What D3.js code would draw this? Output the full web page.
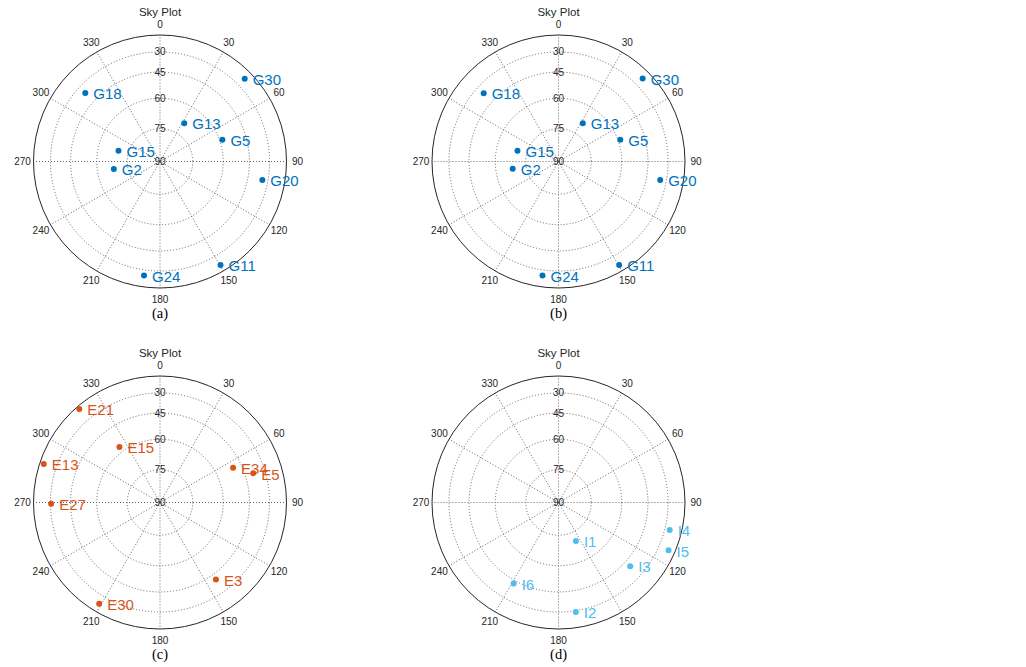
<!DOCTYPE html>
<html>
<head>
<meta charset="utf-8">
<script src="https://cdn.jsdelivr.net/npm/d3@7"></script>
<style>
  html, body { margin: 0; padding: 0; background: #fff; }
  svg { display: block; }
</style>
</head>
<body>
<svg id="chart" width="1026" height="667"></svg>
<script>
// Satellite sky positions: azimuth (deg, clockwise from north) and elevation (deg)
const satsA = ["G30", "G18", "G13", "G5", "G15", "G2", "G20", "G11", "G24"];
const azA   = [45.7, 312.5, 32.3, 70.7, 284.4, 260.7, 100.2, 149.7, 188.0];
const elA   = [20.7, 36.8, 69.0, 58.5, 70.2, 68.3, 34.7, 18.5, 24.6];

const satsB = ["G30", "G18", "G13", "G5", "G15", "G2", "G20", "G11", "G24"];
const azB   = [45.4, 312.4, 32.4, 70.5, 284.8, 261.0, 100.3, 149.6, 188.0];
const elB   = [20.9, 36.8, 69.0, 58.8, 70.4, 68.5, 35.2, 18.6, 24.6];

const satsC = ["E21", "E15", "E13", "E27", "E34", "E5", "E3", "E30"];
const azC   = [319.2, 323.8, 288.3, 269.3, 64.5, 72.6, 144.0, 211.0];
const elC   = [12.6, 57.1, 14.6, 30.6, 50.2, 39.4, 41.2, 21.1];

const satsD = ["I4", "I5", "I1", "I3", "I6", "I2"];
const azD   = [103.9, 113.5, 155.7, 131.6, 209.0, 171.0];
const elD   = [25.1, 18.5, 70.5, 40.7, 43.0, 28.7];

// Axis ticks
const azimuthTicks   = [0, 30, 60, 90, 120, 150, 180, 210, 240, 270, 300, 330];
const elevationTicks = [30, 45, 60, 75, 90];
const chartTitle = "Sky Plot";

const svg = d3.select("#chart");
const R = 126.5;

// Elevation maps to radius through its cosine (horizon at the rim, zenith at the centre)
const rScale = d3.scaleLinear().domain([0, 1]).range([0, R]);
const radius = el => rScale(Math.cos(el * Math.PI / 180));
const toXY = (az, el) => {
  const a = az * Math.PI / 180, r = radius(el);
  return [r * Math.sin(a), -r * Math.cos(a)];
};

function skyPlot(cx, cy, caption, names, az, el, color) {
  const g = svg.append("g").attr("transform", `translate(${cx},${cy})`);

  // Elevation rings
  g.selectAll("circle.ring")
    .data(elevationTicks.filter(e => e < 90))
    .join("circle")
    .attr("r", d => radius(d))
    .attr("fill", "none")
    .attr("stroke", "#666")
    .attr("stroke-width", 1)
    .attr("stroke-dasharray", "1,2");

  // Azimuth spokes
  g.selectAll("line.spoke")
    .data(azimuthTicks)
    .join("line")
    .attr("x1", 0).attr("y1", 0)
    .attr("x2", d => toXY(d, 0)[0])
    .attr("y2", d => toXY(d, 0)[1])
    .attr("stroke", "#666")
    .attr("stroke-width", 1)
    .attr("stroke-dasharray", "1,2");

  // Horizon
  g.append("circle")
    .attr("r", R)
    .attr("fill", "none")
    .attr("stroke", "#262626")
    .attr("stroke-width", 1);

  // Elevation labels along north
  g.selectAll("text.el")
    .data(elevationTicks)
    .join("text")
    .attr("x", 0)
    .attr("y", d => -radius(d))
    .attr("dy", "0.35em")
    .attr("text-anchor", "middle")
    .attr("font-family", "Liberation Sans, Arial, sans-serif")
    .attr("font-size", 10)
    .attr("fill", "#262626")
    .text(d => d);

  // Azimuth labels outside the rim
  g.selectAll("text.az")
    .data(azimuthTicks)
    .join("text")
    .attr("x", d => (R + 11) * Math.sin(d * Math.PI / 180))
    .attr("y", d => -(R + 11) * Math.cos(d * Math.PI / 180))
    .attr("dy", "0.35em")
    .attr("text-anchor", "middle")
    .attr("font-family", "Liberation Sans, Arial, sans-serif")
    .attr("font-size", 10)
    .attr("fill", "#262626")
    .text(d => d);

  // Title
  g.append("text")
    .attr("x", 0)
    .attr("y", -R - 23)
    .attr("dy", "0.35em")
    .attr("text-anchor", "middle")
    .attr("font-family", "Liberation Sans, Arial, sans-serif")
    .attr("font-size", 11.5)
    .attr("fill", "#262626")
    .text(chartTitle);

  // Caption
  g.append("text")
    .attr("x", 0)
    .attr("y", R + 25)
    .attr("dy", "0.35em")
    .attr("text-anchor", "middle")
    .attr("font-family", "Liberation Serif, Times New Roman, serif")
    .attr("font-size", 14.5)
    .attr("fill", "#000")
    .text(caption);

  // Satellites
  const sats = names.map((n, i) => ({ name: n, az: az[i], el: el[i] }));
  g.selectAll("circle.sat")
    .data(sats)
    .join("circle")
    .attr("cx", d => toXY(d.az, d.el)[0])
    .attr("cy", d => toXY(d.az, d.el)[1])
    .attr("r", 3)
    .attr("fill", color);

  g.selectAll("text.sat")
    .data(sats)
    .join("text")
    .attr("x", d => toXY(d.az, d.el)[0] + 8)
    .attr("y", d => toXY(d.az, d.el)[1] + 1)
    .attr("dy", "0.35em")
    .attr("font-family", "Liberation Sans, Arial, sans-serif")
    .attr("font-size", 15)
    .attr("fill", color)
    .text(d => d.name);
}

skyPlot(160, 161.5, "(a)", satsA, azA, elA, "#0072BD");
skyPlot(558.5, 161.5, "(b)", satsB, azB, elB, "#0072BD");
skyPlot(160, 502.5, "(c)", satsC, azC, elC, "#D95319");
skyPlot(558.5, 502.5, "(d)", satsD, azD, elD, "#4DBEEE");
</script>
</body>
</html>
